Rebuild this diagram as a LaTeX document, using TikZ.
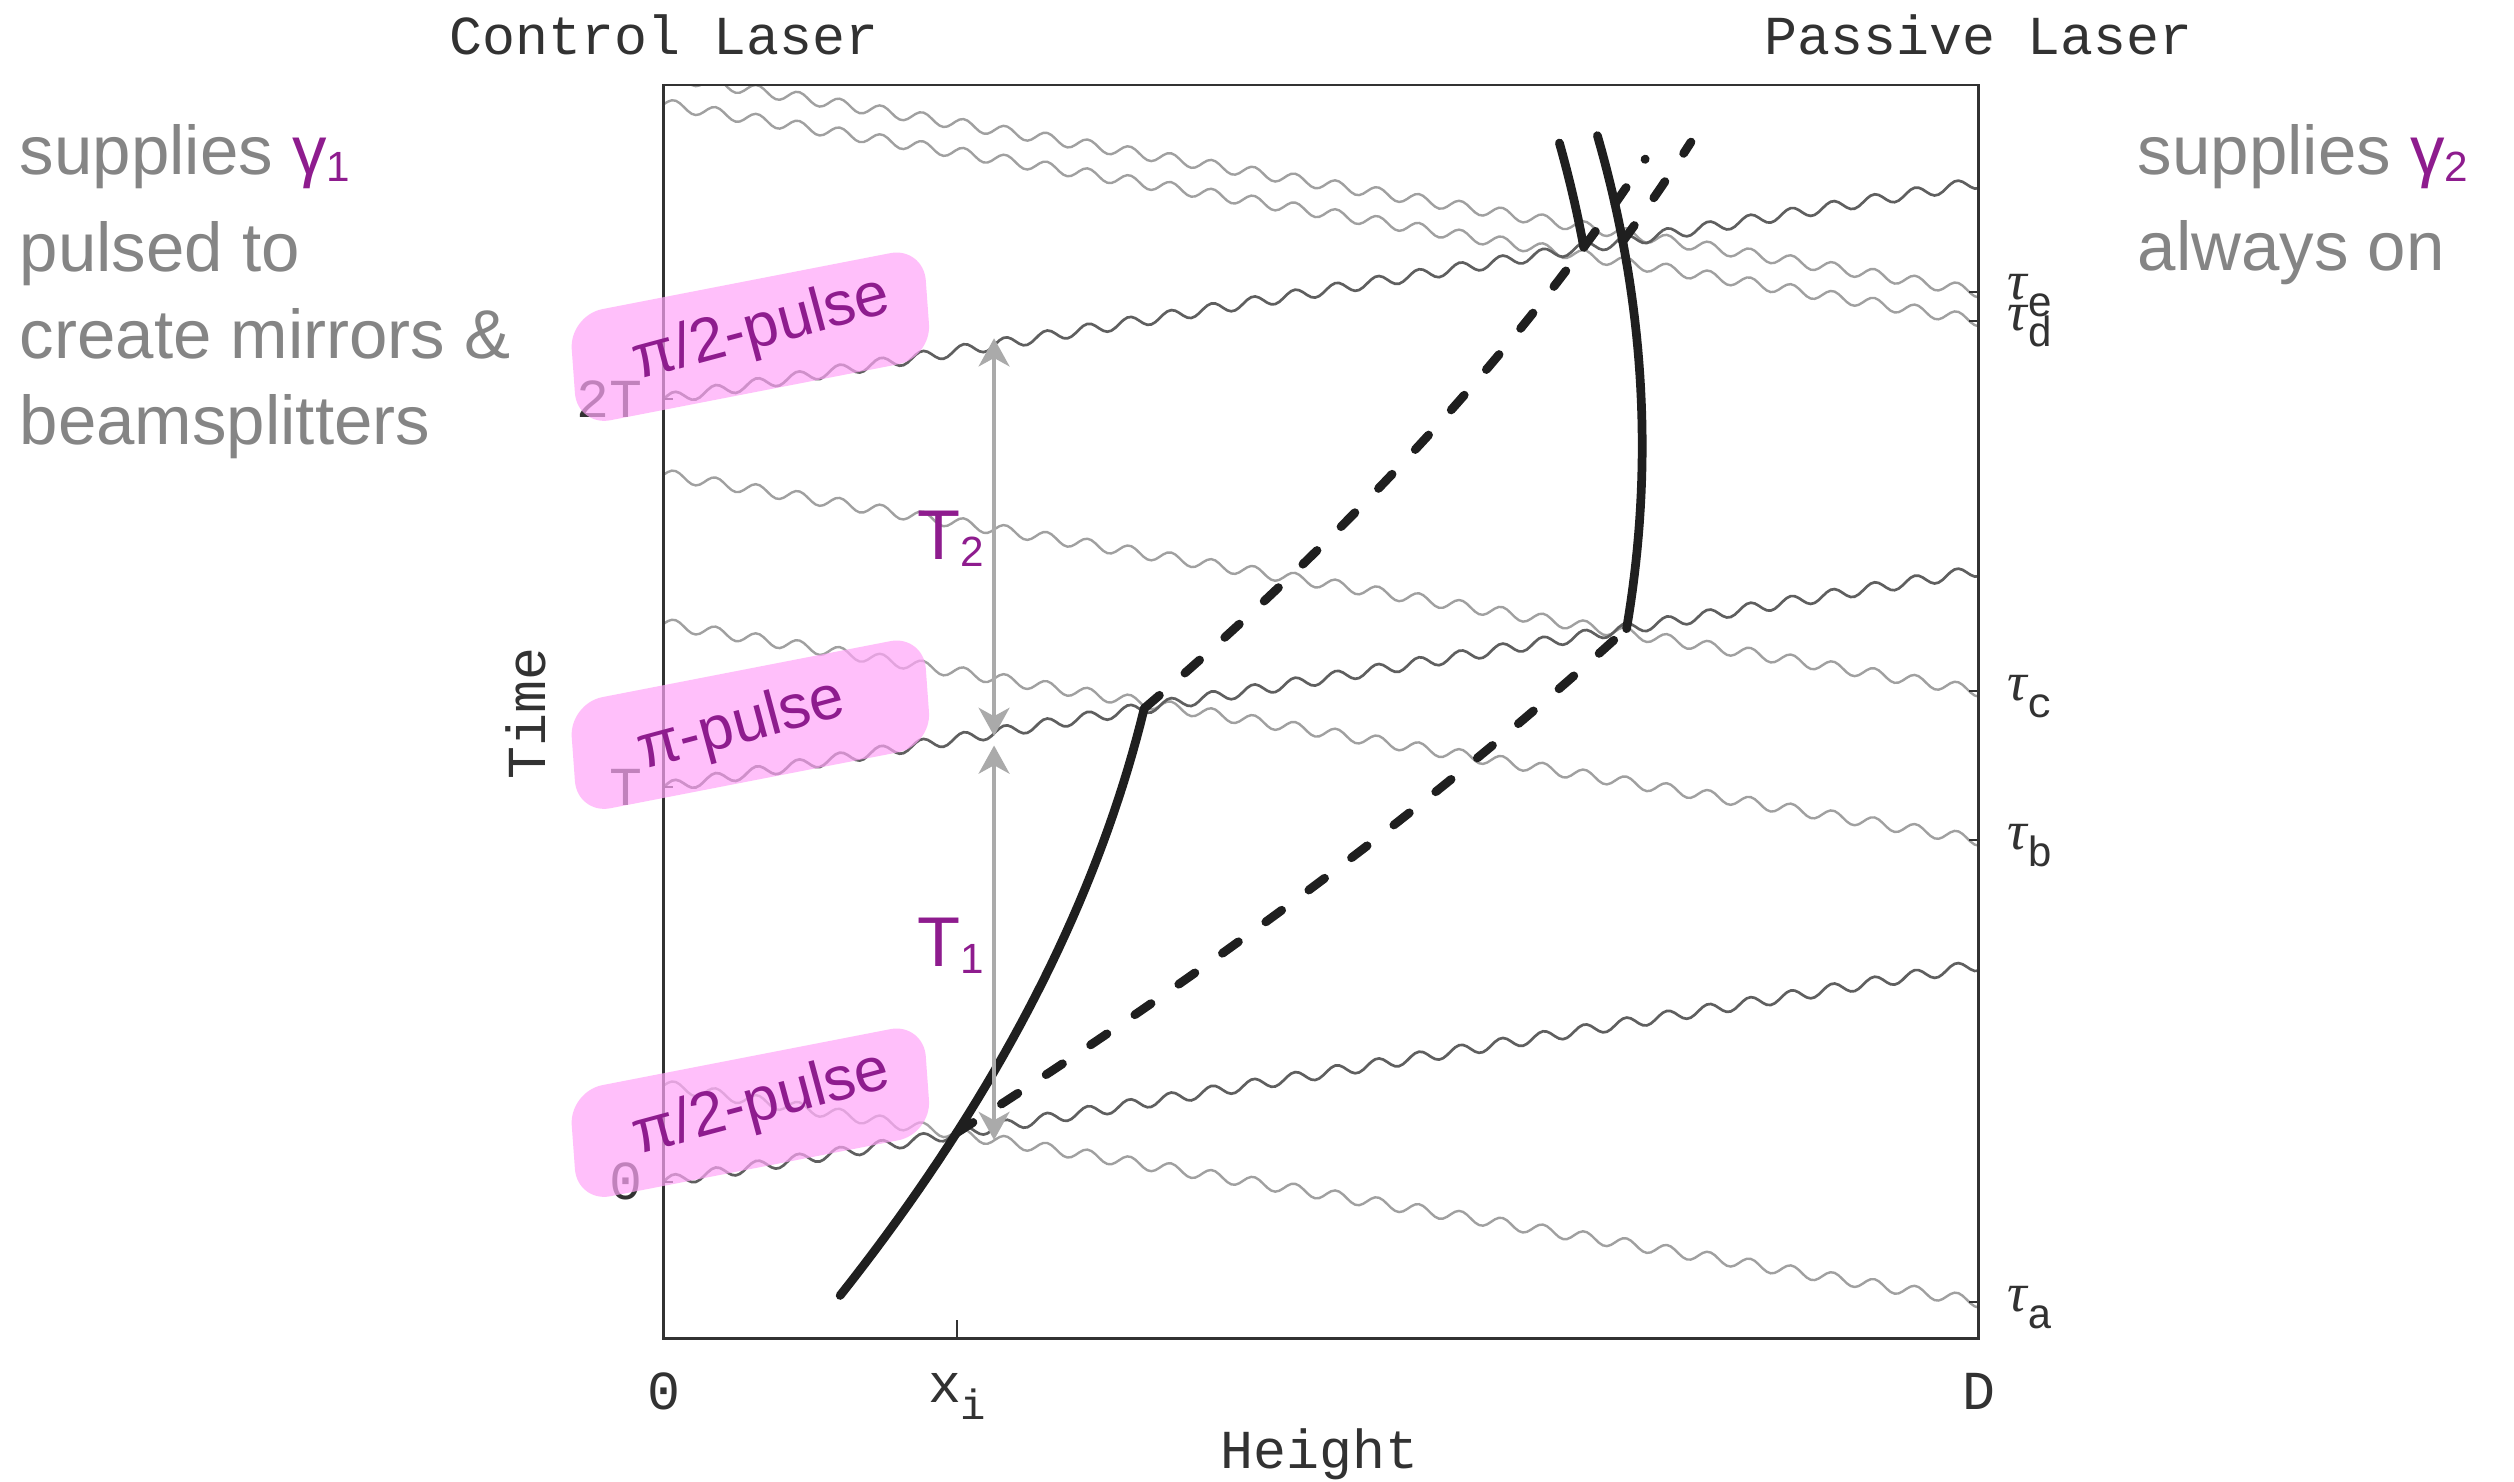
\documentclass[tikz,border=0pt]{standalone}
\usepackage{fontspec}
\setmainfont{Liberation Sans}
\newfontfamily\axisfont{Liberation Mono}
\newfontfamily\taufont{Liberation Serif}
\usetikzlibrary{arrows.meta,positioning}
\definecolor{notegray}{RGB}{133,133,133}
\definecolor{pulsepurple}{RGB}{142,28,142}
\definecolor{pulsepink}{RGB}{255,165,248}
\definecolor{axisgray}{RGB}{50,50,50}
\definecolor{upwave}{RGB}{95,95,95}
\definecolor{downwave}{RGB}{160,160,160}
\definecolor{spangray}{RGB}{170,170,170}
\newcommand{\taulabel}[1]{{\taufont\itshape τ}\raisebox{-0.3em}{\fontsize{15}{15}\selectfont #1}}
\newcommand{\lowsub}[1]{\raisebox{-0.1em}{\fontsize{15}{15}\selectfont #1}}

\begin{document}
\begin{tikzpicture}[x=0.02cm, y=0.02cm]
\tikzstyle{axislabel} = [font=\axisfont\fontsize{19.5}{20}\selectfont, text=axisgray, inner sep=0pt]
\tikzstyle{note} = [font=\fontsize{24.5}{28}\selectfont, text=notegray, anchor=base west, inner sep=0pt]
\tikzstyle{pulsebox} = [rectangle, rounded corners=0.42cm, minimum width=4.5cm, minimum height=1.38cm, fill=pulsepink, fill opacity=0.7, rotate=11, xslant=0.12]
\tikzstyle{pulsetext} = [anchor=base west, inner sep=0pt, text=pulsepurple, font=\fontsize{22}{24}\selectfont, rotate=15]
\tikzstyle{photonup} = [upwave, line width=0.95pt]
\tikzstyle{photondown} = [downwave, line width=0.85pt]
\tikzstyle{solidarm} = [black!88, line width=3.1pt, line cap=round]
\tikzstyle{dashedarm} = [solidarm, dash pattern=on 7pt off 12pt]
\tikzstyle{span} = [spangray, line width=1.2pt, {Stealth[length=10pt,width=11pt,inset=3pt]}-{Stealth[length=10pt,width=11pt,inset=3pt]}]

\path[fill=white] (0,0) rectangle (1568,924);
\useasboundingbox (0,0) rectangle (1568,924);

\coordinate (origin) at (414,89);
\coordinate (corner) at (1234,871);

\begin{scope}
\clip (origin) rectangle (corner);
\draw[photondown] plot[domain=414:1234, samples=330] (\x, {112+0.16463*(1234-\x)+3.5*sin(13.95*(\x-414))});
\draw[photondown] plot[domain=414:1234, samples=330] (\x, {400+0.16463*(1234-\x)+3.5*sin(13.95*(\x-414))});
\draw[photondown] plot[domain=414:1234, samples=330] (\x, {493+0.16463*(1234-\x)+3.5*sin(13.95*(\x-414))});
\draw[photondown] plot[domain=414:1234, samples=330] (\x, {724+0.16463*(1234-\x)+3.5*sin(13.95*(\x-414))});
\draw[photondown] plot[domain=414:1234, samples=330] (\x, {742+0.16463*(1234-\x)+3.5*sin(13.95*(\x-414))});
\draw[photonup] plot[domain=414:1234, samples=330] (\x, {187+0.16463*(\x-414)+3.5*sin(13.95*(\x-414))});
\draw[photonup] plot[domain=414:1234, samples=330] (\x, {433+0.16463*(\x-414)+3.5*sin(13.95*(\x-414))});
\draw[photonup] plot[domain=414:1234, samples=330] (\x, {675+0.16463*(\x-414)+3.5*sin(13.95*(\x-414))});
\end{scope}

\draw[axisgray, line width=1pt] (origin) rectangle (corner);
\foreach \t in {187,433,675} \draw[axisgray, line width=0.8pt] (414,\t) -- ++(6,0);
\foreach \t in {112,400,493,724,742} \draw[axisgray, line width=0.8pt] (1234,\t) -- ++(-6,0);
\draw[axisgray, line width=0.8pt] (597,89) -- ++(0,12);

\draw[solidarm] plot[domain=0:366.3, samples=40] ({524+0.7918*\x-0.000747*\x*\x}, {116+\x});
\draw[dashedarm] plot[domain=0:314.6, samples=40] ({596.5+1.5637*\x-0.000747*\x*\x}, {217.3+\x});
\draw[dashedarm] plot[domain=0:287.5, samples=40] ({713.8+1.1676*\x-0.000747*\x*\x}, {482.3+\x});
\draw[solidarm] plot[domain=0:241.5, samples=30] ({1014.5+0.1707*\x-0.000747*\x*\x}, {531.9+\x});
\draw[solidarm] plot[domain=0:65, samples=10] ({987.8-0.185*\x-0.000747*\x*\x}, {769.8+\x});
\draw[dashedarm] plot[domain=0:55, samples=10] ({987.8+0.738*\x-0.000747*\x*\x}, {769.8+\x});
\draw[solidarm] plot[domain=0:66, samples=10] ({1012.1-0.190*\x-0.000747*\x*\x}, {773.4+\x});
\draw[dashedarm] plot[domain=0:62, samples=10] ({1012.1+0.733*\x-0.000747*\x*\x}, {773.4+\x});

\coordinate (twotop) at (620,713);
\coordinate (twobottom) at (620,465);
\coordinate (onetop) at (620,459);
\coordinate (onebottom) at (620,213);
\draw[span] (twobottom) -- (twotop);
\draw[span] (onebottom) -- (onetop);
\node[anchor=base west, inner sep=0pt, text=pulsepurple, font=\fontsize{25}{26}\selectfont] (ttwo) at (572,575) {T\lowsub{2}};
\node[anchor=base west, inner sep=0pt, text=pulsepurple, font=\fontsize{25}{26}\selectfont] (tone) at (572,321) {T\lowsub{1}};

\node[axislabel, anchor=east] (tickzero) at (401,187) {0};
\node[axislabel, anchor=east] (tickt) at (401,433) {T};
\node[axislabel, anchor=east] (ticktwot) at (401,675) {2T};
\node[axislabel, rotate=90] (timelabel) at (328,479) {Time};
\node[axislabel] (xzero) at (414,56) {0};
\node[axislabel] (xinit) at (597,53) {x\raisebox{-0.3em}{\fontsize{15}{15}\selectfont i}};
\node[axislabel] (xd) at (1234,56) {D};
\node[axislabel] (heightlabel) at (823,17) {Height};
\node[axislabel] (controllaser) at (414,902) {Control Laser};
\node[axislabel] (passivelaser) at (1234,902) {Passive Laser};
\node[axislabel, anchor=base west] (taua) at (1252,106) {\taulabel{a}};
\node[axislabel, anchor=base west] (taub) at (1252,394) {\taulabel{b}};
\node[axislabel, anchor=base west] (tauc) at (1252,487) {\taulabel{c}};
\node[axislabel, anchor=base west] (taud) at (1252,718) {\taulabel{d}};
\node[axislabel, anchor=base west] (taue) at (1252,737) {\taulabel{e}};

\node[pulsebox] (pulsetop) at (468,714) {};
\node[pulsebox] (pulsemid) at (468,472) {};
\node[pulsebox] (pulselow) at (468,230) {};
\node[pulsetext] (pulsetoplabel) at (398,687) {π/2-pulse};
\node[pulsetext] (pulsemidlabel) at (401,444) {π-pulse};
\node[pulsetext] (pulselowlabel) at (398,204) {π/2-pulse};

\node[note] (controlone) at (12,815) {supplies \textcolor{pulsepurple}{γ\lowsub{1}}};
\node[note] (controltwo) at (12,754.5) {pulsed to};
\node[note] (controlthree) at (12,700.5) {create mirrors \&};
\node[note] (controlfour) at (12,646.5) {beamsplitters};
\node[note] (passiveone) at (1333,815) {supplies \textcolor{pulsepurple}{γ\lowsub{2}}};
\node[note] (passivetwo) at (1333,755) {always on};
\end{tikzpicture}
\end{document}
